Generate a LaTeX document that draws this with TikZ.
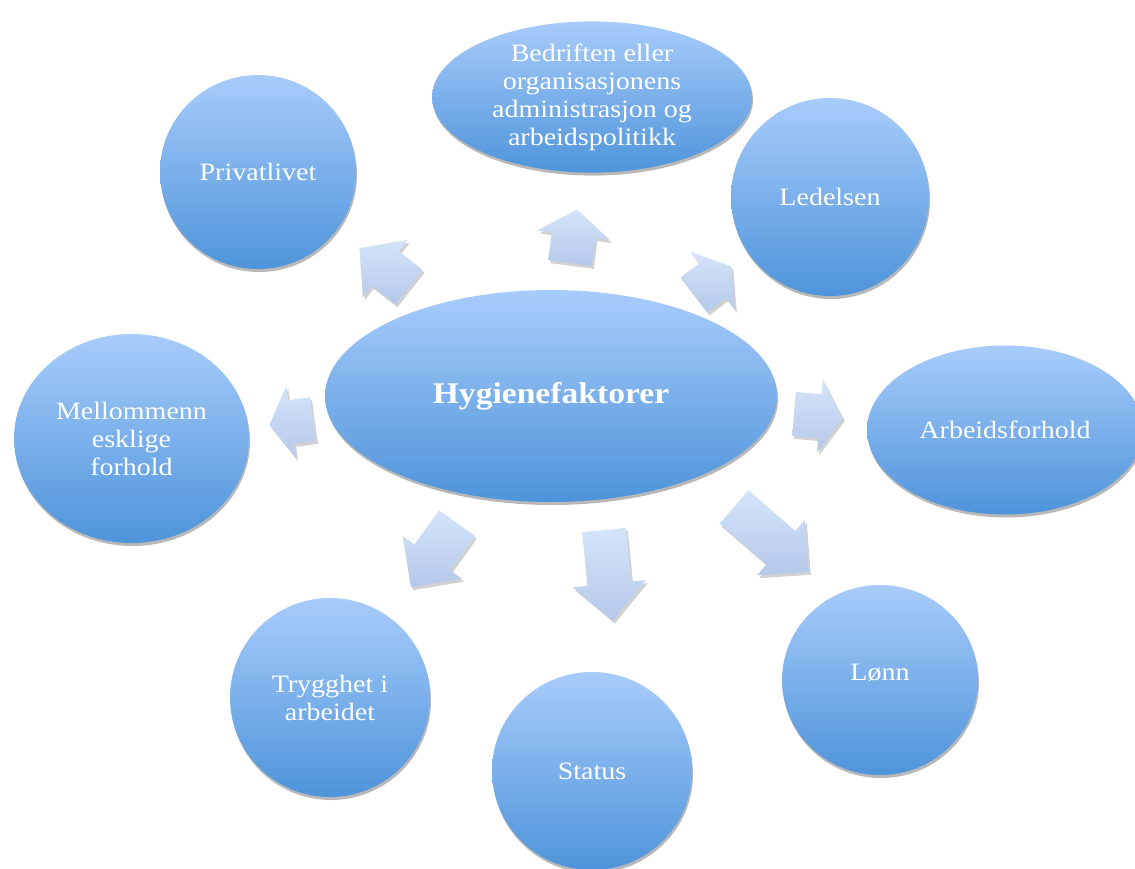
\documentclass[tikz,border=0pt]{standalone}
\usepackage{fontspec}
\setmainfont{Liberation Serif}[FakeStretch=1.12]
\usetikzlibrary{shapes.geometric,shadows,calc}
\definecolor{circtop}{HTML}{A8CCFB}
\definecolor{circbot}{HTML}{4E94DA}
\definecolor{arrtop}{HTML}{D4E4FA}
\definecolor{arrbot}{HTML}{B5C8E9}
\tikzset{
  bubble/.style={ellipse, inner sep=0pt, top color=circtop, bottom color=circbot,
    draw=none, text=white, align=center, font=\fontsize{25}{28}\selectfont,
    drop shadow={shadow xshift=1pt, shadow yshift=-3pt, opacity=0.28, fill=black}},
  arrowshade/.style={top color=arrtop, bottom color=arrbot, draw=none},
  arrowshadow/.style={fill=black, opacity=0.18},
}
% #1 base coordinate, #2 angle, #3 length, #4 head length
\newcommand\blockarrow[4]{%
  \fill[arrowshadow, shift={($(#1)+(2,3)$)}, rotate=#2]
    (0,22) -- ({#3-#4},22) -- ({#3-#4},36.5) -- (#3,0) -- ({#3-#4},-36.5) -- ({#3-#4},-22) -- (0,-22) -- cycle;
  \shade[arrowshade, shift={(#1)}, rotate=#2]
    (0,22) -- ({#3-#4},22) -- ({#3-#4},36.5) -- (#3,0) -- ({#3-#4},-36.5) -- ({#3-#4},-22) -- (0,-22) -- cycle;
}
\begin{document}
\begin{tikzpicture}[x=1pt,y=-1pt]
\useasboundingbox (0,0) rectangle (1135,868);
\clip (0,0) rectangle (1135,868);
\fill[white] (0,0) rectangle (1135,868);

% nodes
\node[bubble, minimum width=452, minimum height=212,
      font=\fontsize{30}{34}\selectfont\bfseries] (hyg) at (551,396) {Hygienefaktorer};
\node[bubble, minimum width=320, minimum height=150] (bed) at (592,97)
  {Bedriften eller\\organisasjonens\\administrasjon og\\arbeidspolitikk};
\node[bubble, minimum width=196, minimum height=194] (priv) at (258,172) {Privatlivet};
\node[bubble, minimum width=198, minimum height=198] (led) at (830,197) {Ledelsen};
\node[bubble, minimum width=276, minimum height=169] (arb) at (1005,430) {Arbeidsforhold};
\node[bubble, minimum width=235, minimum height=209] (mel) at (131.5,438.5)
  {Mellommenn\\esklige\\forhold};
\node[bubble, minimum width=200, minimum height=199] (try) at (330,697.5) {Trygghet i\\arbeidet};
\node[bubble, minimum width=200, minimum height=198] (sta) at (592,771) {Status};
\node[bubble, minimum width=196, minimum height=190] (lon) at (880,680) {};
\node[text=white, font=\fontsize{25}{28}\selectfont] (lontext) at (880,673) {Lønn};

% arrow bases
\coordinate (apriv) at (409,287);
\coordinate (abed) at (570,263);
\coordinate (aled) at (694,295);
\coordinate (amel) at (313,419);
\coordinate (aarb) at (794,414);
\coordinate (atry) at (457,523);
\coordinate (asta) at (604,530);
\coordinate (alon) at (734,507);

\blockarrow{apriv}{142}{63}{33}
\blockarrow{abed}{82.6}{54}{26}
\blockarrow{aled}{37.6}{47}{23.5}
\blockarrow{amel}{187.8}{44}{22}
\blockarrow{aarb}{-4.7}{49}{23}
\blockarrow{atry}{234.3}{79}{36.6}
\blockarrow{asta}{-84.4}{91}{37}
\blockarrow{alon}{-40.9}{99}{37}
\end{tikzpicture}
\end{document}
